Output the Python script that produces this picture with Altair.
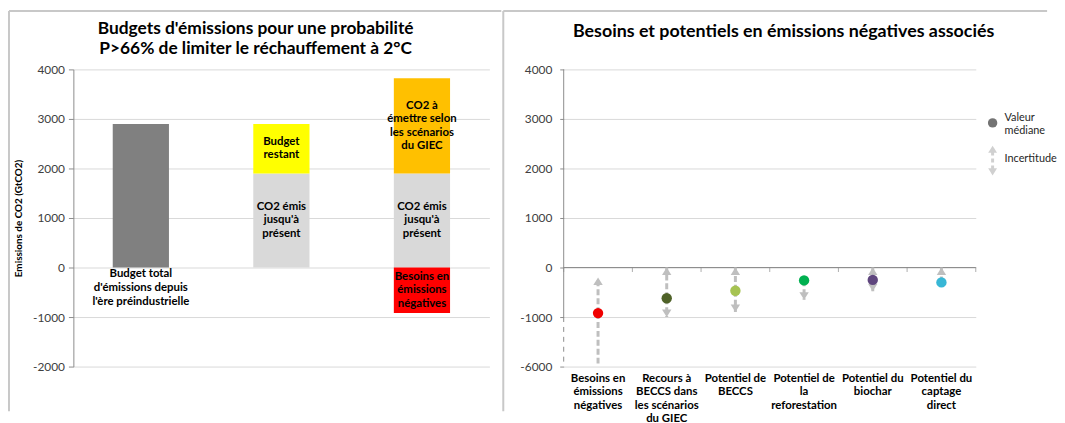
import altair as alt
import pandas as pd

FONT = "Lato"
GRID = "#D9D9D9"
AXIS = "#8C8C8C"
FRAME = "#C8C8C8"
ARROW = "#BFBFBF"
LABEL = "#404040"

# ---------------- left panel data ----------------
bar_order = ["total", "restant", "giec"]
seg_bar = ["total", "restant", "restant", "giec", "giec", "giec"]
seg_from = [0, 0, 1900, 0, 1900, 0]
seg_to = [2900, 1900, 2900, 1900, 3820, -920]
seg_fill = ["#808080", "#D9D9D9", "#FFFF00", "#D9D9D9", "#FFC000", "#FF0000"]
seg_text = ["", "CO2 émis\njusqu'à\nprésent", "Budget\nrestant",
            "CO2 émis\njusqu'à\nprésent", "CO2 à\némettre selon\nles scénarios\ndu GIEC",
            "Besoins en\némissions\nnégatives"]
under_bar = ["total"]
under_text = ["Budget total\nd'émissions depuis\nl'ère préindustrielle"]
left_title = "Budgets d'émissions pour une probabilité\nP>66% de limiter le réchauffement à 2°C"
left_ytitle = "Emissions de CO2 (GtCO2)"
left_ticks = [-2000, -1000, 0, 1000, 2000, 3000, 4000]

# ---------------- right panel data ----------------
right_cats = ["Besoins en|émissions|négatives",
              "Recours à|BECCS dans|les scénarios|du GIEC",
              "Potentiel de|BECCS",
              "Potentiel de|la|reforestation",
              "Potentiel du|biochar",
              "Potentiel du|captage|direct"]
right_median = [-920, -620, -470, -260, -250, -300]
right_high = [-200, 0, 0, None, 0, 0]
right_low = [-6000, -1000, -900, -650, -480, None]
right_fill = ["#F00000", "#4F6228", "#A6C352", "#00B050", "#5F467E", "#38B7D6"]
right_ticks = [-6000, -1000, 0, 1000, 2000, 3000, 4000]
right_title = "Besoins et potentiels en émissions négatives associés"
legend_text = ["Valeur\nmédiane", "Incertitude"]
BREAK = -1000          # axis is broken below this value
BREAK_FACTOR = 5       # compression of the broken part


def brk(v):
    if v is None:
        return None
    return v if v >= BREAK else BREAK + (v - BREAK) / BREAK_FACTOR


W_L, W_R, H = 420, 416, 300
TXT = 11.5
LH = 13.5
one = pd.DataFrame({"a": [0]})

# ================= LEFT =================
ldf = pd.DataFrame({"bar": seg_bar, "y0": seg_from, "y1": seg_to,
                    "fill": seg_fill, "txt": seg_text})
ldf["mid"] = (ldf.y0 + ldf.y1) / 2
ldf["nl"] = ldf.txt.str.count("\n") + 1
udf = pd.DataFrame({"bar": under_bar, "txt": under_text, "y": [0] * len(under_bar)})

xL = alt.X("bar:N", sort=bar_order, axis=None,
           scale=alt.Scale(domain=bar_order, paddingInner=0.6, paddingOuter=0.28))
yScaleL = alt.Scale(domain=[-2000, 4000], nice=False, zero=False)
yAxisL = alt.Axis(values=left_ticks, labelExpr="'' + datum.value", title=left_ytitle,
                  grid=True, gridColor=GRID,
                  domainColor=AXIS, tickColor=AXIS, tickSize=5, labelFont=FONT,
                  labelFontSize=12, labelColor=LABEL, labelPadding=4,
                  titleFont=FONT, titleFontSize=10, titleFontWeight="bold",
                  titleColor="black", titlePadding=9)


def YL(field):
    return alt.Y(field, scale=yScaleL, axis=yAxisL)


bars = alt.Chart(ldf).mark_bar().encode(
    x=xL, y=YL("y0:Q"), y2="y1:Q", fill=alt.Fill("fill:N", scale=None))

# multi-line labels centred on their segment: one layer per line count
inbar_layers = []
lab = ldf[ldf.txt != ""]
for n in sorted(lab.nl.unique()):
    inbar_layers.append(
        alt.Chart(lab[lab.nl == n]).mark_text(
            font=FONT, fontWeight="bold", fontSize=TXT, lineBreak="\n", lineHeight=LH,
            baseline="middle", dy=-(n - 1) * LH / 2, color="black").encode(
            x=xL, y=YL("mid:Q"), text="txt:N"))

under = alt.Chart(udf).mark_text(
    font=FONT, fontWeight="bold", fontSize=TXT, lineBreak="\n", lineHeight=14,
    baseline="middle", dy=7, color="black").encode(x=xL, y=YL("y:Q"), text="txt:N")

ltitle = alt.Chart(one).mark_text(
    font=FONT, fontWeight="bold", fontSize=17.5, lineBreak="\n", lineHeight=20,
    baseline="middle", align="center", color="black").encode(
    x=alt.value(184), y=alt.value(-41), text=alt.value(left_title))

lframe_top = alt.Chart(one).mark_rule(color=FRAME, strokeWidth=2).encode(
    x=alt.value(-65), x2=alt.value(W_L + 12), y=alt.value(-59))
lframe_left = alt.Chart(one).mark_rule(color=FRAME, strokeWidth=2).encode(
    x=alt.value(-65), y=alt.value(-59), y2=alt.value(345))

left = alt.layer(lframe_top, lframe_left, bars, *inbar_layers, under, ltitle).properties(
    width=W_L, height=H)

# ================= RIGHT =================
rdf = pd.DataFrame({"cat": right_cats, "med": right_median, "fill": right_fill})
rdf["ym"] = rdf.med.map(brk)
hdf = pd.DataFrame({"cat": right_cats, "med": right_median, "hi": right_high}).dropna()
hdf["ym"] = hdf.med.map(brk)
hdf["yh"] = hdf.hi.map(brk)
ddf = pd.DataFrame({"cat": right_cats, "med": right_median, "lo": right_low}).dropna()
ddf["ym"] = ddf.med.map(brk)
ddf["yl"] = ddf.lo.map(brk)
ddf_heads = ddf[ddf.lo >= BREAK]

tick_vals = [brk(t) for t in right_ticks]
label_expr = " : ".join(
    [f"datum.value == {brk(t)} ? '{t}'" for t in right_ticks]) + " : datum.label"

xScaleR = alt.Scale(domain=right_cats, paddingInner=0, paddingOuter=0)
xAxisR = alt.Axis(title=None, domain=False, ticks=False, labelAngle=0, labelFont=FONT,
                  labelFontWeight="bold", labelFontSize=TXT, labelColor="black",
                  labelLineHeight=LH, labelExpr="split(datum.label, '|')",
                  labelPadding=6, labelBaseline="top", grid=False,
                  labelOverlap=False, labelBound=False, labelLimit=200)
yScaleR = alt.Scale(domain=[brk(-6000), 4000], nice=False, zero=False)
yAxisR = alt.Axis(values=tick_vals, labelExpr=label_expr, title=None, grid=True,
                  gridColor=GRID, domain=False, tickColor=AXIS, tickSize=4,
                  labelFont=FONT, labelFontSize=12, labelColor=LABEL, labelPadding=8)


def XR(band=0.5):
    return alt.X("cat:N", sort=right_cats, scale=xScaleR, axis=xAxisR, bandPosition=band)


def YR(field):
    return alt.Y(field, scale=yScaleR, axis=yAxisR)


zdf = pd.DataFrame({"v": [0]})
zero_line = alt.Chart(zdf).mark_rule(color=AXIS, strokeWidth=1).encode(
    y=YR("v:Q"), x=alt.value(0), x2=alt.value(W_R))

cat_ticks = alt.Chart(rdf).mark_tick(color=AXIS, size=5, thickness=1,
                                     orient="vertical", yOffset=2).encode(
    x=XR(0), y=YR("zero:Q")).transform_calculate(zero="0")
cat_ticks_end = alt.Chart(rdf.tail(1)).mark_tick(color=AXIS, size=5, thickness=1,
                                                 orient="vertical", yOffset=2).encode(
    x=XR(1), y=YR("zero:Q")).transform_calculate(zero="0")

adf = pd.DataFrame({"a0": [4000, BREAK], "a1": [BREAK, -6000], "dash": ["solid", "dash"]})
adf["y0"] = adf.a0.map(brk)
adf["y1"] = adf.a1.map(brk)
axis_solid = alt.Chart(adf[adf.dash == "solid"]).mark_rule(color=AXIS, strokeWidth=1).encode(
    x=alt.value(0), y=YR("y0:Q"), y2="y1:Q")
axis_dash = alt.Chart(adf[adf.dash == "dash"]).mark_rule(
    color=AXIS, strokeWidth=1, strokeDash=[5, 5]).encode(
    x=alt.value(0), y=YR("y0:Q"), y2="y1:Q")

UP = "M0,0L1,1.6L-1,1.6Z"
DOWN = "M0,0L1,-1.6L-1,-1.6Z"

up_line = alt.Chart(hdf).mark_rule(color=ARROW, strokeWidth=3, strokeDash=[6, 3]).encode(
    x=XR(), y=YR("ym:Q"), y2="yh:Q")
up_head = alt.Chart(hdf).mark_point(shape=UP, filled=True, size=90, color=ARROW,
                                    opacity=1).encode(x=XR(), y=YR("yh:Q"))
down_line = alt.Chart(ddf).mark_rule(color=ARROW, strokeWidth=3, strokeDash=[6, 3]).encode(
    x=XR(), y=YR("ym:Q"), y2="yl:Q")
down_head = alt.Chart(ddf_heads).mark_point(shape=DOWN, filled=True, size=90, color=ARROW,
                                            opacity=1).encode(x=XR(), y=YR("yl:Q"))

points = alt.Chart(rdf).mark_circle(size=110, opacity=1).encode(
    x=XR(), y=YR("ym:Q"), fill=alt.Fill("fill:N", scale=None))

rtitle = alt.Chart(one).mark_text(
    font=FONT, fontWeight="bold", fontSize=18, baseline="middle", align="center",
    color="black").encode(x=alt.value(222), y=alt.value(-38), text=alt.value(right_title))

# legend (glyphs + text), placed right of the plot area
LX = W_R + 17
leg_dot = alt.Chart(one).mark_circle(size=90, color="#737373", opacity=1).encode(
    x=alt.value(LX), y=alt.value(54))
leg_up = alt.Chart(one).mark_point(shape=UP, filled=True, size=80, color="#D0D0D0",
                                   opacity=1).encode(x=alt.value(LX), y=alt.value(77))
leg_line = alt.Chart(one).mark_rule(color="#D0D0D0", strokeWidth=3, strokeDash=[4, 3]).encode(
    x=alt.value(LX), y=alt.value(83), y2=alt.value(101))
leg_down = alt.Chart(one).mark_point(shape=DOWN, filled=True, size=80, color="#D0D0D0",
                                     opacity=1).encode(x=alt.value(LX), y=alt.value(107))
leg_t1 = alt.Chart(one).mark_text(font=FONT, fontSize=11, lineBreak="\n", lineHeight=13,
                                  align="left", baseline="middle", color="#262626").encode(
    x=alt.value(LX + 12), y=alt.value(49), text=alt.value(legend_text[0]))
leg_t2 = alt.Chart(one).mark_text(font=FONT, fontSize=11, align="left", baseline="middle",
                                  color="#262626").encode(
    x=alt.value(LX + 12), y=alt.value(90), text=alt.value(legend_text[1]))

rframe_top = alt.Chart(one).mark_rule(color=FRAME, strokeWidth=2).encode(
    x=alt.value(-61), x2=alt.value(W_R + 72), y=alt.value(-59))
rframe_div = alt.Chart(one).mark_rule(color=FRAME, strokeWidth=2).encode(
    x=alt.value(-61), y=alt.value(-59), y2=alt.value(345))

right = alt.layer(rframe_top, rframe_div, zero_line, axis_solid, axis_dash,
                  cat_ticks, cat_ticks_end, up_line, down_line, up_head, down_head,
                  points, rtitle, leg_dot, leg_up, leg_line, leg_down, leg_t1, leg_t2
                  ).properties(width=W_R, height=H)

chart = alt.hconcat(left, right, spacing=0).properties(
    padding={"left": 0, "top": 0, "right": 0, "bottom": 0}
).configure_view(stroke=None).configure_concat(spacing=0)

chart.save("out.html", embed_options={"renderer": "svg", "actions": False})
